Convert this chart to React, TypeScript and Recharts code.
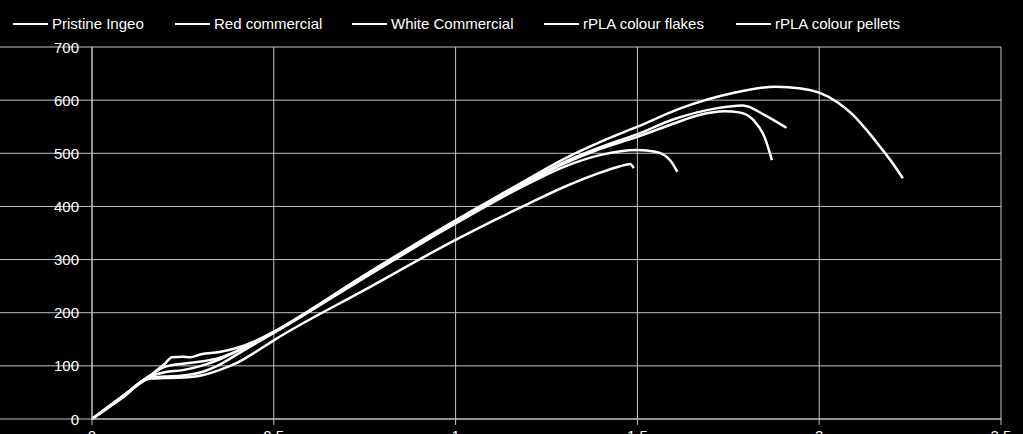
import { CartesianGrid, Legend, Line, LineChart, XAxis, YAxis } from "recharts";

const seriesNames = [
  "Pristine Ingeo",
  "Red commercial",
  "White Commercial",
  "rPLA colour flakes",
  "rPLA colour pellets",
];

// strain (x) / stress (y) readings for each material
const pristineX = [0, 0.08, 0.16, 0.2, 0.22, 0.25, 0.27, 0.3, 0.35, 0.4, 0.45, 0.5, 0.75, 1.0, 1.1, 1.2, 1.3, 1.4, 1.5, 1.62, 1.76, 1.88, 1.95, 2.0, 2.05, 2.09, 2.13, 2.17, 2.2, 2.23];
const pristineY = [0, 41, 82, 104, 116, 117, 116, 122, 126, 134, 147, 164, 271, 374, 413, 452, 490, 522, 550, 585, 613, 625, 622, 614, 596, 574, 544, 510, 483, 453];

const redX = [0, 0.08, 0.16, 0.2, 0.25, 0.3, 0.35, 0.4, 0.45, 0.5, 0.75, 1.0, 1.2, 1.3, 1.4, 1.5, 1.6, 1.72, 1.79, 1.85, 1.91];
const redY = [0, 41, 82, 98, 104, 108, 115, 128, 145, 164, 270, 372, 448, 484, 512, 536, 564, 585, 590, 572, 548];

const whiteX = [0, 0.08, 0.16, 0.2, 0.25, 0.3, 0.35, 0.4, 0.45, 0.5, 0.75, 1.0, 1.2, 1.3, 1.4, 1.5, 1.6, 1.67, 1.74, 1.78, 1.82, 1.85, 1.87];
const whiteY = [0, 40, 80, 88, 92, 100, 112, 128, 145, 163, 268, 370, 446, 481, 509, 531, 556, 572, 579, 577, 562, 530, 487];

const flakesX = [0, 0.08, 0.16, 0.2, 0.25, 0.3, 0.35, 0.4, 0.45, 0.5, 0.75, 1.0, 1.2, 1.3, 1.4, 1.5, 1.55, 1.59, 1.61];
const flakesY = [0, 39, 78, 80, 82, 88, 102, 122, 142, 162, 266, 368, 443, 475, 497, 506, 503, 487, 465];

const pelletsX = [0, 0.08, 0.16, 0.2, 0.25, 0.3, 0.35, 0.4, 0.45, 0.5, 0.75, 1.0, 1.1, 1.2, 1.3, 1.4, 1.45, 1.48, 1.49];
const pelletsY = [0, 38, 76, 77, 78, 82, 92, 106, 126, 148, 243, 337, 372, 405, 437, 464, 475, 480, 472];

const xTicks = [0, 0.5, 1, 1.5, 2, 2.5];
const yTicks = [0, 100, 200, 300, 400, 500, 600, 700];

const toPoints = (xs: number[], ys: number[]) => xs.map((x, i) => ({ x, y: ys[i] }));

const series = [
  { name: seriesNames[0], data: toPoints(pristineX, pristineY) },
  { name: seriesNames[1], data: toPoints(redX, redY) },
  { name: seriesNames[2], data: toPoints(whiteX, whiteY) },
  { name: seriesNames[3], data: toPoints(flakesX, flakesY) },
  { name: seriesNames[4], data: toPoints(pelletsX, pelletsY) },
];

const W = 1023;
const H = 434;
const AXIS_W = 92;
const GRID = "#c4c4c4";
const FONT = '"Liberation Sans", Arial, sans-serif';
const legendLeft = [13, 175, 352, 544, 736];

function LegendRow({ payload }: any) {
  return (
    <div style={{ position: "relative", width: W, height: 40 }}>
      {(payload ?? []).map((entry: any) => {
        const idx = seriesNames.indexOf(entry.value);
        return (
          <div
            key={entry.value}
            style={{
              position: "absolute",
              left: legendLeft[idx] ?? 0,
              top: 15,
              display: "flex",
              alignItems: "center",
              color: "#fff",
              fontSize: 15,
              lineHeight: "17px",
              whiteSpace: "nowrap",
            }}
          >
            <span style={{ display: "inline-block", width: 35, height: 2, background: "#fff", marginRight: 4 }} />
            <span>{entry.value}</span>
          </div>
        );
      })}
    </div>
  );
}

function YTick({ x, y, payload }: any) {
  return (
    <g>
      <line x1={0} x2={AXIS_W} y1={y} y2={y} stroke={GRID} />
      <text x={x} y={y} dy={5.5} textAnchor="end" fill="#fff" fontSize={15} fontFamily={FONT}>
        {payload.value}
      </text>
    </g>
  );
}

function XTick({ x, y, payload }: any) {
  return (
    <text x={x} y={y} dy={14} textAnchor="middle" fill="#fff" fontSize={15} fontFamily={FONT}>
      {payload.value}
    </text>
  );
}

export default function App() {
  return (
    <div
      style={{
        position: "absolute",
        left: 0,
        top: 0,
        width: W,
        height: H,
        background: "#000",
        overflow: "hidden",
        fontFamily: FONT,
      }}
    >
      <LineChart width={W} height={H} margin={{ top: 47, right: 22, bottom: 0, left: 0 }}>
        <CartesianGrid stroke={GRID} />
        <XAxis
          type="number"
          dataKey="x"
          domain={[0, 2.5]}
          ticks={xTicks}
          height={15}
          stroke={GRID}
          tickSize={6}
          tickMargin={2}
          tick={<XTick />}
        />
        <YAxis
          type="number"
          domain={[0, 700]}
          ticks={yTicks}
          width={AXIS_W}
          stroke={GRID}
          tickLine={false}
          tickSize={0}
          tickMargin={13}
          tick={<YTick />}
        />
        <Legend
          layout="horizontal"
          verticalAlign="middle"
          align="center"
          wrapperStyle={{ top: 0, left: 0, width: W, height: 40 }}
          content={<LegendRow />}
        />
        {series.map((s) => (
          <Line
            key={s.name}
            name={s.name}
            data={s.data}
            dataKey="y"
            type="monotone"
            stroke="#fff"
            strokeWidth={2.5}
            dot={false}
            activeDot={false}
            isAnimationActive={false}
          />
        ))}
      </LineChart>
    </div>
  );
}
